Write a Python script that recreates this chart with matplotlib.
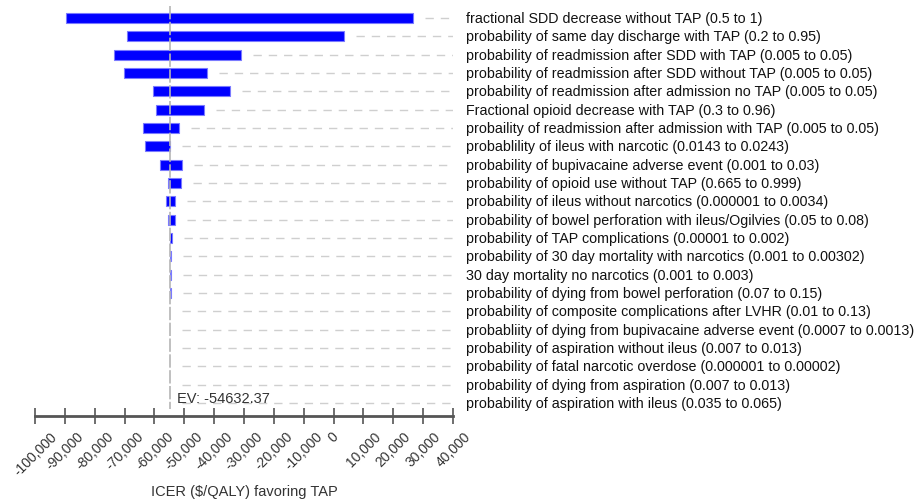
import numpy as np
import matplotlib.pyplot as plt

plt.rcParams['font.family'] = ['Liberation Sans', 'DejaVu Sans']

ev = -54632.37

labels = [
    "fractional SDD decrease without TAP (0.5 to 1)",
    "probability of same day discharge with TAP (0.2 to 0.95)",
    "probability of readmission after SDD with TAP (0.005 to 0.05)",
    "probability of readmission after SDD without TAP (0.005 to 0.05)",
    "probability of readmission after admission no TAP (0.005 to 0.05)",
    "Fractional opioid decrease with TAP (0.3 to 0.96)",
    "probaility of readmission after admission with TAP (0.005 to 0.05)",
    "probablility of ileus with narcotic (0.0143 to 0.0243)",
    "probability of bupivacaine adverse event (0.001 to 0.03)",
    "probability of opioid use without TAP (0.665 to 0.999)",
    "probability of ileus without narcotics (0.000001 to 0.0034)",
    "probability of bowel perforation with ileus/Ogilvies (0.05 to 0.08)",
    "probability of TAP complications (0.00001 to 0.002)",
    "probability of 30 day mortality with narcotics (0.001 to 0.00302)",
    "30 day mortality no narcotics (0.001 to 0.003)",
    "probability of dying from bowel perforation (0.07 to 0.15)",
    "probability of composite complications after LVHR (0.01 to 0.13)",
    "probabliity of dying from bupivacaine adverse event (0.0007 to 0.0013)",
    "probability of aspiration without ileus (0.007 to 0.013)",
    "probability of fatal narcotic overdose (0.000001 to 0.00002)",
    "probability of dying from aspiration (0.007 to 0.013)",
    "probability of aspiration with ileus (0.035 to 0.065)",
]

# ICER at low / high end of each parameter range
low = [-89500, -69100, -73400, -70300, -60600, -59400, -63900, -63300,
       -58000, -55500, -56200, -55500, -54632, -54632, -54632, -54632,
       -54632, -54632, -54632, -54632, -54632, -54632]
high = [26500, 3400, -30900, -42300, -34600, -43400, -51900, -54632,
        -50800, -51200, -53100, -53100, -54250, -54300, -54300, -54350,
        -54632, -54632, -54632, -54632, -54632, -54632]

ticks = np.arange(-100000, 40001, 10000)

fig = plt.figure(figsize=(9.2, 5.02), dpi=100)
ax = fig.add_axes([35 / 920, 1 - 416.7 / 502, 418 / 920, (416.7 - 7) / 502])

y = np.arange(len(labels))
low = np.array(low)
high = np.array(high)
has_bar = high > low

ax.barh(y[has_bar], (high - low)[has_bar], left=low[has_bar], height=0.55,
        color='#0000ff', edgecolor='#7a7aff', linewidth=0.8, zorder=2)

# dashed guides from bar end to the right edge
for i in range(len(labels)):
    start = max(high[i], ev) + 4000
    ax.plot([start, 40000], [i, i], color='#cfcfcf', lw=1,
            dashes=(6, 5), zorder=1)
    ax.text(1.031, i, labels[i], transform=ax.get_yaxis_transform(),
            fontsize=10.3, color='#111111', va='center', ha='left', clip_on=False)

ax.vlines(ev, -0.655, 21.35, color='#b5b5b5', lw=1.2,
          linestyles=(0, (8, 1.5)), zorder=3)
ax.text(ev + 2200, 20.73, "EV: -54632.37", fontsize=10.5, color='#333333',
        va='center', ha='left')

ax.set_xlim(-100000, 40000)
ax.set_ylim(21.7, -0.655)
ax.set_yticks([])
for s in ['left', 'top', 'right']:
    ax.spines[s].set_visible(False)
ax.spines['bottom'].set_color('#555555')
ax.spines['bottom'].set_linewidth(2)
ax.set_xticks(ticks)
ax.set_xticklabels(["{:,}".format(t) for t in ticks], rotation=45, ha='center',
                   fontsize=10, color='#333333')
ax.tick_params(axis='x', direction='inout', length=11, width=1.2,
               color='#555555', pad=4)
ax.set_xlabel("ICER ($/QALY) favoring TAP", fontsize=10.5, color='#333333',
              labelpad=5)

fig.savefig("out.png", dpi=100)
